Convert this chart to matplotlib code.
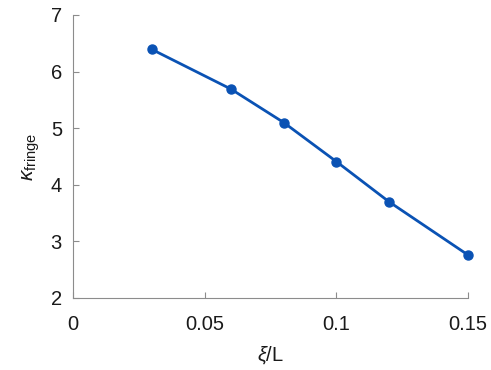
import matplotlib
matplotlib.use('Agg')
from matplotlib import pyplot as plt

# data
xi_over_L = [0.03, 0.06, 0.08, 0.10, 0.12, 0.15]
kappa_fringe = [6.39, 5.69, 5.10, 4.41, 3.70, 2.76]

x_ticks = [0, 0.05, 0.1, 0.15]
x_tick_labels = ['0', '0.05', '0.1', '0.15']
y_ticks = [2, 3, 4, 5, 6, 7]

plt.rcParams['font.family'] = ['Liberation Sans', 'DejaVu Sans']
plt.rcParams['mathtext.fontset'] = 'custom'
plt.rcParams['mathtext.it'] = 'Liberation Sans:italic'
plt.rcParams['mathtext.rm'] = 'Liberation Sans'

fig = plt.figure(figsize=(4.91, 3.70), dpi=100)
ax = fig.add_axes([0.1487, 0.1946, 0.8045, 0.765])

line_color = '#0a52b4'
ax.plot(xi_over_L, kappa_fringe, '-o', color=line_color, linewidth=2,
        markersize=6.5, clip_on=False)

ax.set_xlim(0, 0.15)
ax.set_ylim(2, 7)
ax.set_xticks(x_ticks)
ax.set_xticklabels(x_tick_labels)
ax.set_yticks(y_ticks)

for side in ['top', 'right']:
    ax.spines[side].set_visible(False)
for side in ['left', 'bottom']:
    ax.spines[side].set_color('#8c8c8c')
    ax.spines[side].set_linewidth(0.8)

ax.tick_params(direction='in', length=4, width=0.8, color='#8c8c8c',
               labelsize=14.5, labelcolor='#1a1a1a')
ax.tick_params(axis='x', pad=12)
ax.tick_params(axis='y', pad=8)

ax.set_xlabel(r'$\xi$/L', fontsize=14.5, color='#1a1a1a', labelpad=8)
ax.set_ylabel(r'$\kappa_{\mathrm{fringe}}$', fontsize=15, color='#1a1a1a', labelpad=6)

fig.savefig('out.png', dpi=100)
